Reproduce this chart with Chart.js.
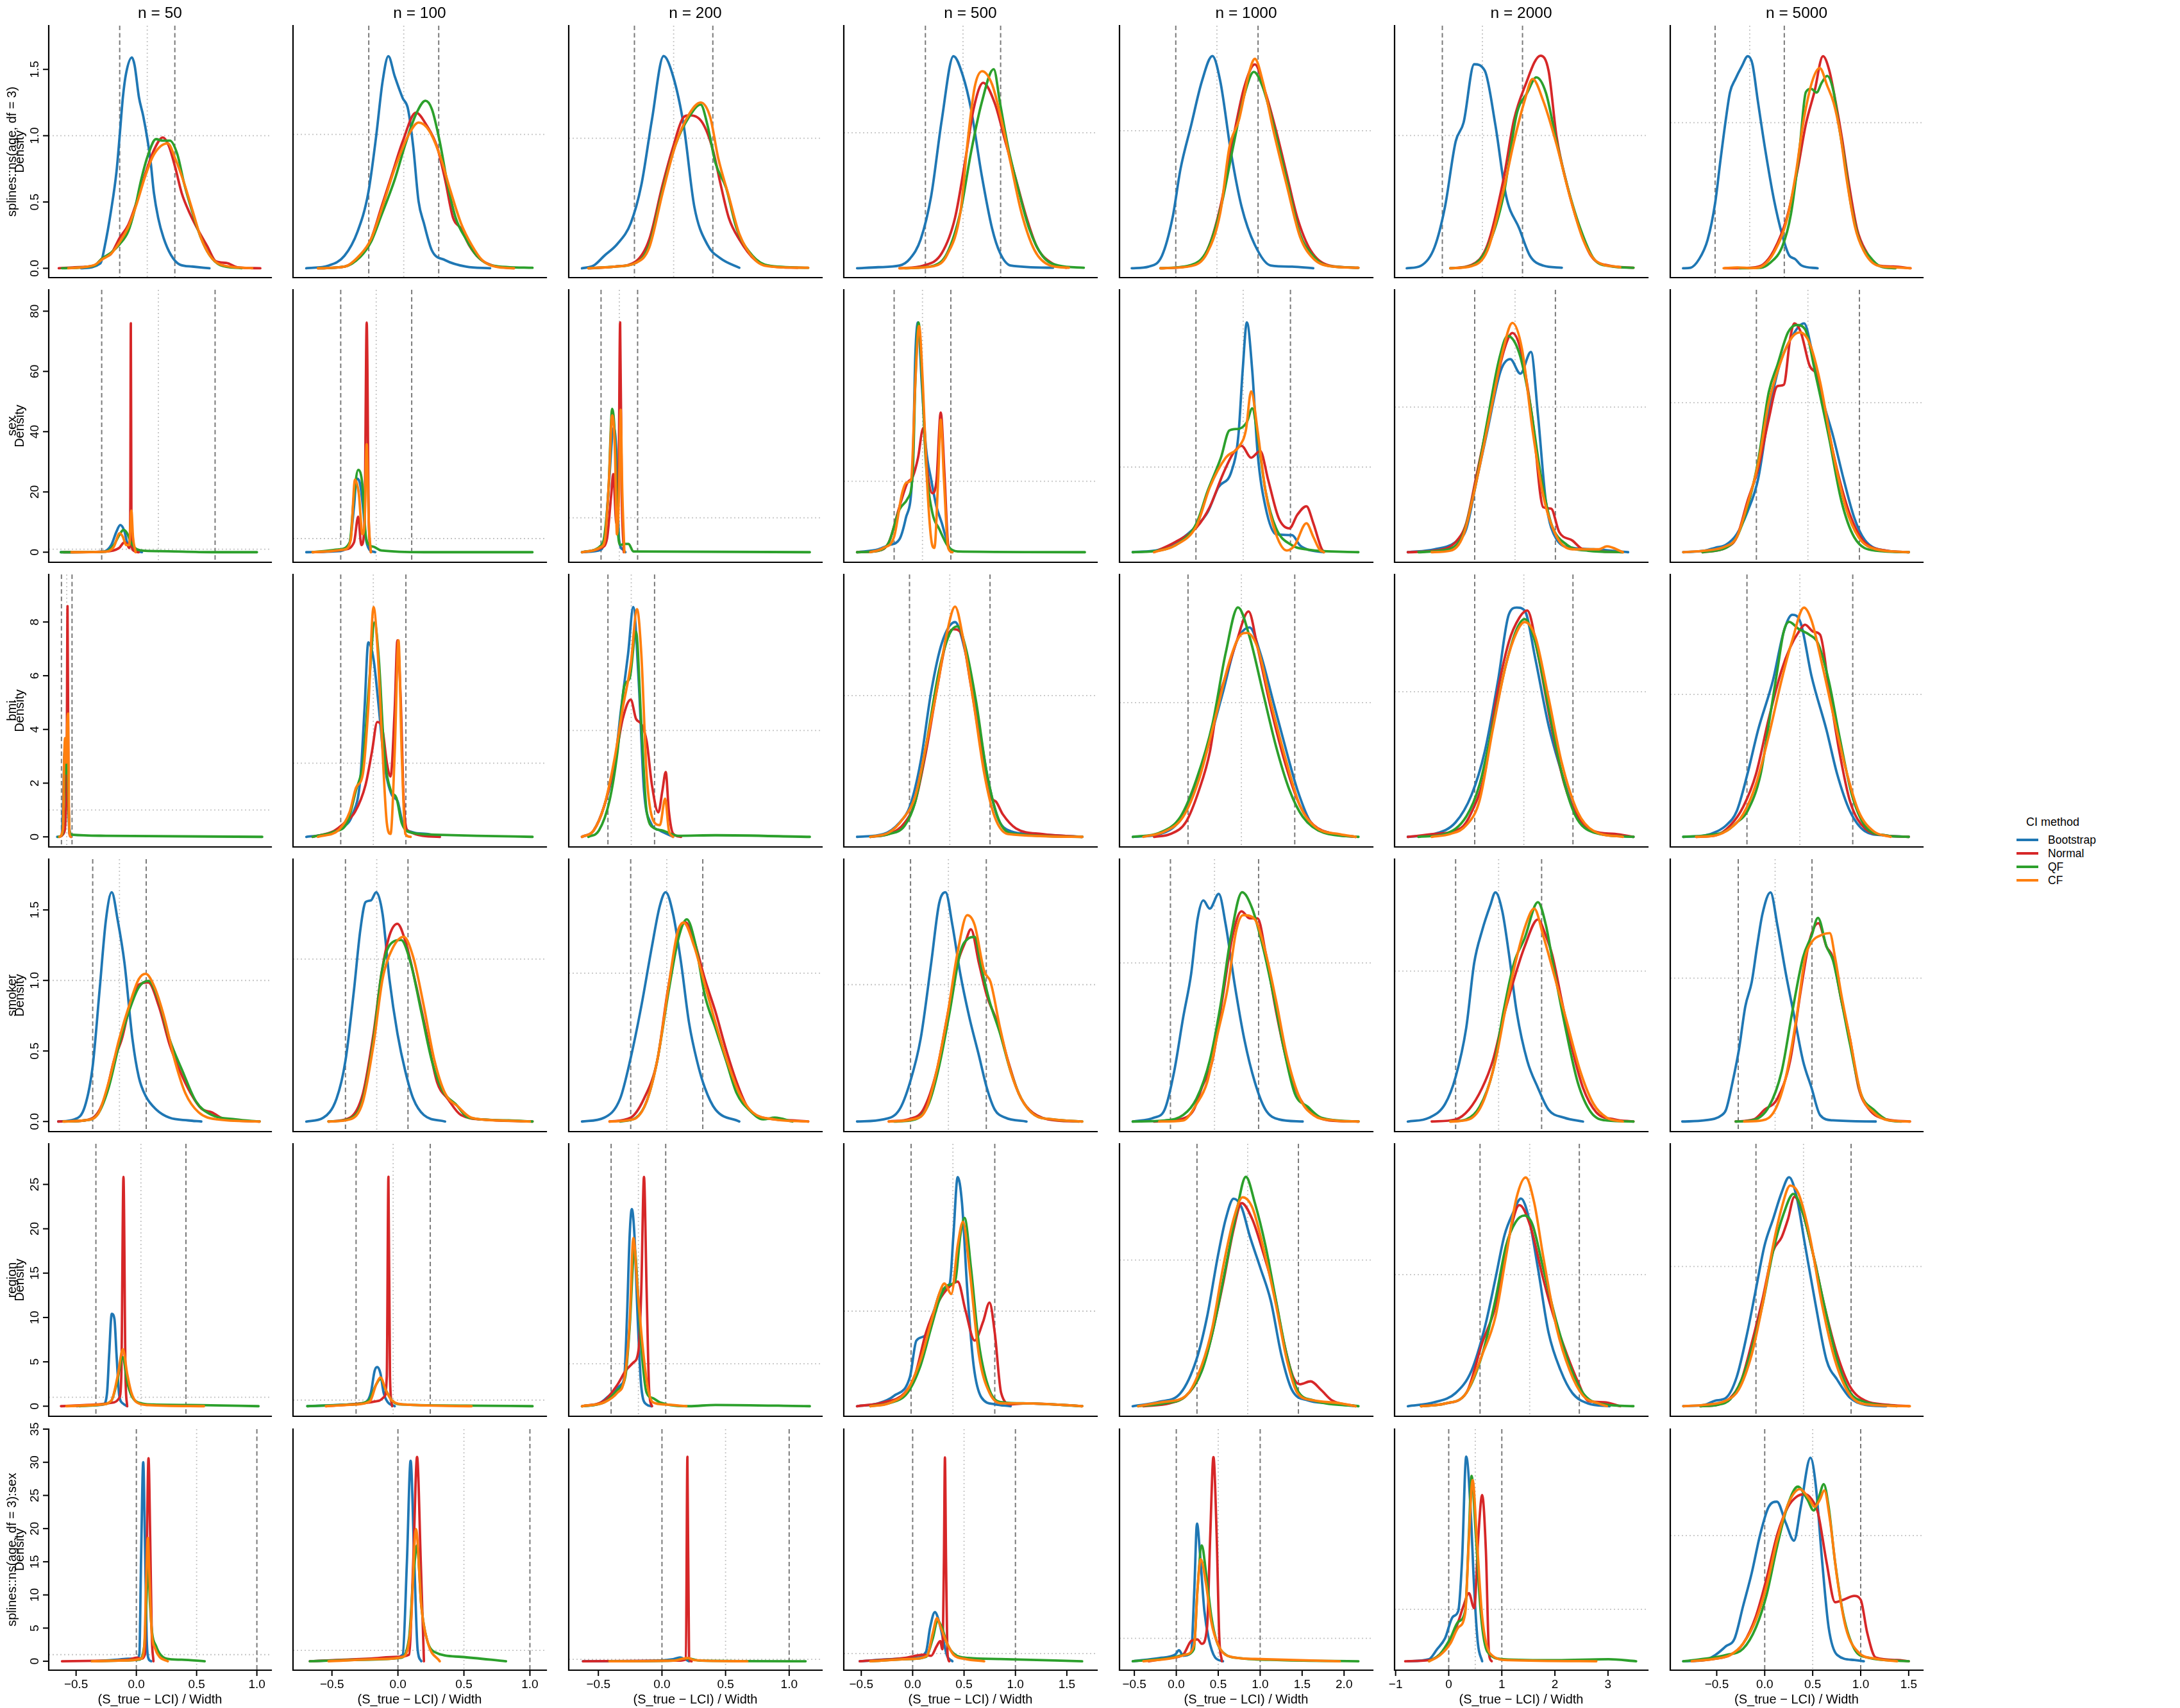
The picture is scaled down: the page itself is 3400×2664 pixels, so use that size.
<!DOCTYPE html>
<html>
<head>
<meta charset="utf-8">
<title>CI coverage densities</title>
<script src="https://cdn.jsdelivr.net/npm/chart.js@4.4.0/dist/chart.umd.min.js"></script>
<style>
html,body{margin:0;padding:0;background:#fff;}
#page{position:relative;width:3400px;height:2664px;overflow:hidden;background:#fff;font-family:"Liberation Sans",Arial,sans-serif;color:#000;}
#page canvas{position:absolute;}
.lg{position:absolute;white-space:nowrap;line-height:1;font-family:"Liberation Sans",Arial,sans-serif;}
.lgline{position:absolute;height:3.5px;width:34px;}
</style>
</head>
<body>
<div id="page"></div>
<script>
// ---------------- labels / ticks ----------------
const METHODS = ["Bootstrap", "Normal", "QF", "CF"];
const N_LABELS = ["n = 50", "n = 100", "n = 200", "n = 500", "n = 1000", "n = 2000", "n = 5000"];
const TERMS = ["splines::ns(age, df = 3)", "sex", "bmi", "smoker", "region", "splines::ns(age, df = 3):sex"];
const Y_TITLE = "Density";
const X_TITLE = "(S_true \u2212 LCI) / Width";
const Y_TICKS = [[0,0.5,1,1.5],[0,20,40,60,80],[0,2,4,6,8],[0,0.5,1,1.5],[0,5,10,15,20,25],[0,5,10,15,20,25,30,35]];
const X_TICKS = [[-0.5,0,0.5,1],[-0.5,0,0.5,1],[-0.5,0,0.5,1],[-0.5,0,0.5,1,1.5],[-0.5,0,0.5,1,1.5,2],[-1,0,1,2,3],[-0.5,0,0.5,1,1.5]];
const CI_BOUNDS = [0, 1];
const CI_MID = 0.5;
const UNIFORM_DENSITY = 1;

// ---------------- axis ranges per panel (n = 50 ... 5000) ----------------
const AGE_XLIM = [[-1.287,2.748],[-1.083,2.538],[-0.838,2.392],[-1.085,2.282],[-0.684,2.394],[-0.596,2.563],[-0.648,3.003]];
const AGE_YMAX = [1.83,1.813,1.866,1.791,1.763,1.828,1.666];
const SEX_XLIM = [[-0.467,1.495],[-0.672,2.896],[-0.884,6.043],[-0.888,3.579],[-0.809,1.871],[-0.993,2.145],[-0.836,1.616]];
const SEX_YMAX = [87.1,19.24,7.63,3.70,3.083,1.808,1.755];
const BMI_XLIM = [[-1.2,19.8],[-0.732,3.154],[-0.841,4.591],[-0.816,2.329],[-0.642,1.731],[-0.816,1.762],[-0.725,1.663]];
const BMI_YMAX = [9.77,3.563,2.467,1.857,1.955,1.808,1.843];
const SMOKER_XLIM = [[-0.822,3.337],[-0.839,3.212],[-0.86,2.654],[-0.881,2.462],[-0.578,2.295],[-0.71,2.235],[-0.922,2.504]];
const SMOKER_YMAX = [1.86,1.615,1.769,1.917,1.654,1.744,1.83];
const REGION_XLIM = [[-0.524,1.947],[-0.85,2.564],[-0.777,3.864],[-0.804,2.222],[-0.764,1.733],[-0.861,1.69],[-0.901,1.755]];
const REGION_YMAX = [29.58,43.1,6.19,2.76,1.796,1.996,1.879];
const AGESEX_XLIM = [[-0.727,1.119],[-0.795,1.124],[-0.733,1.258],[-0.67,1.794],[-0.677,2.342],[-1.02,3.75],[-0.984,1.648]];
const AGESEX_YMAX = [35,21.25,121.4,30.4,10.12,4.47,1.848];

// ---------------- density curves: [x0,y0,x1,y1,...] per n ----------------
const AGE_BOOTSTRAP = [
 [-0.70,0,-0.349,0.037,-0.271,0.166,-0.155,0.439,-0.058,0.729,0,1.00,0.058,1.29,0.116,1.47,0.221,1.59,0.271,1.53,0.349,1.29,0.426,1.15,0.504,0.97,0.562,0.80,0.620,0.57,0.698,0.38,0.795,0.23,0.930,0.10,1.085,0.029,1.318,0.013,1.628,0],
 [-0.894,0,-0.576,0.02,-0.348,0.093,-0.159,0.276,-0.008,0.561,0.106,0.988,0.197,1.394,0.28,1.585,0.371,1.435,0.485,1.272,0.561,1.19,0.636,0.907,0.712,0.5,0.788,0.337,0.902,0.134,1.091,0.061,1.394,0.012,1.735,0],
 [-0.669,0,-0.52,0.021,-0.385,0.096,-0.216,0.188,-0.047,0.347,0.088,0.64,0.223,1.142,0.372,1.632,0.493,1.477,0.628,1.10,0.764,0.473,0.932,0.18,1.101,0.075,1.338,0.004],
 [-0.908,0,-0.627,0.008,-0.345,0.02,-0.204,0.072,-0.063,0.213,0.077,0.534,0.218,1.096,0.373,1.566,0.5,1.418,0.606,1.177,0.746,0.695,0.887,0.293,0.993,0.112,1.134,0.02,1.697,0.004],
 [-0.535,0,-0.329,0.012,-0.168,0.091,-0.039,0.368,0.058,0.723,0.187,1.04,0.316,1.356,0.445,1.542,0.542,1.356,0.671,0.842,0.8,0.447,0.961,0.17,1.155,0.02,1.413,0.012,1.671,0],
 [-0.444,0,-0.265,0.02,-0.099,0.156,0.033,0.463,0.166,0.955,0.265,1.098,0.397,1.537,0.53,1.488,0.662,1.078,0.795,0.545,0.96,0.299,1.093,0.094,1.258,0.02,1.49,0.004],
 [-0.463,0,-0.355,0.004,-0.231,0.063,-0.108,0.196,0,0.446,0.077,0.74,0.154,1.019,0.216,1.21,0.293,1.299,0.386,1.387,0.472,1.456,0.54,1.401,0.617,1.151,0.725,0.813,0.849,0.475,0.972,0.225,1.065,0.093,1.157,0.063,1.25,0.019,1.481,0]
];
const AGE_NORMAL = [
 [-1.105,0,-0.814,0.008,-0.465,0.02,-0.31,0.077,-0.155,0.11,0,0.23,0.155,0.327,0.31,0.504,0.465,0.713,0.62,0.89,0.783,0.987,0.891,0.923,1.008,0.76,1.124,0.568,1.279,0.407,1.434,0.279,1.589,0.166,1.744,0.053,1.938,0.04,2.132,0.008,2.55,0],
 [-0.727,0,-0.348,0.012,-0.121,0.093,0.03,0.215,0.182,0.459,0.333,0.703,0.485,0.947,0.674,1.163,0.826,1.069,0.977,0.907,1.091,0.663,1.205,0.378,1.318,0.297,1.432,0.175,1.583,0.073,1.773,0.02,2.076,0],
 [-0.588,0,-0.25,0.013,0.02,0.054,0.189,0.222,0.358,0.64,0.493,0.933,0.628,1.163,0.696,1.176,0.865,1.121,1.0,0.912,1.101,0.64,1.203,0.389,1.338,0.222,1.541,0.063,1.777,0.013,2.081,0.004],
 [-0.345,0,-0.028,0.02,0.218,0.112,0.394,0.373,0.535,0.815,0.641,1.177,0.768,1.369,0.923,1.217,1.063,0.936,1.204,0.655,1.345,0.373,1.486,0.153,1.697,0.032,1.873,0.004],
 [-0.187,0,0.187,0.02,0.381,0.13,0.542,0.447,0.703,0.96,0.832,1.316,0.961,1.482,1.09,1.277,1.219,1.0,1.348,0.684,1.477,0.368,1.639,0.13,1.865,0.02,2.219,0.004],
 [0.099,0,0.364,0.025,0.563,0.176,0.762,0.668,0.894,1.119,1.026,1.365,1.225,1.602,1.325,1.488,1.424,0.996,1.556,0.627,1.689,0.34,1.854,0.094,2.086,0.02,2.384,0.004],
 [0.139,0,0.509,0.004,0.694,0.026,0.849,0.122,1.034,0.343,1.188,0.666,1.312,0.99,1.435,1.21,1.559,1.456,1.651,1.357,1.744,1.137,1.836,0.887,1.929,0.593,2.052,0.269,2.176,0.122,2.361,0.019,2.577,0.012,2.824,0]
];
const AGE_QF = [
 [-1.047,0,-0.465,0.02,-0.31,0.077,-0.155,0.118,0,0.182,0.155,0.279,0.271,0.44,0.388,0.665,0.504,0.842,0.659,0.974,0.775,0.963,0.911,0.963,1.047,0.858,1.163,0.649,1.318,0.424,1.473,0.23,1.628,0.10,1.822,0.024,2.209,0],
 [-0.727,0,-0.348,0.012,-0.121,0.085,0.03,0.195,0.182,0.398,0.371,0.663,0.523,0.927,0.674,1.15,0.811,1.252,0.902,1.19,1.015,0.947,1.129,0.622,1.242,0.378,1.394,0.215,1.545,0.093,1.773,0.02,2.341,0.004],
 [-0.588,0,-0.25,0.013,0.02,0.042,0.189,0.18,0.358,0.598,0.527,0.954,0.696,1.163,0.845,1.259,0.932,1.10,1.034,0.808,1.169,0.619,1.304,0.305,1.507,0.096,1.709,0.021,2.216,0.004],
 [-0.275,0,0.113,0.02,0.289,0.112,0.465,0.414,0.606,0.855,0.746,1.217,0.908,1.47,0.993,1.217,1.099,0.896,1.239,0.574,1.38,0.293,1.556,0.092,1.768,0.02,2.106,0.004],
 [-0.187,0,0.187,0.024,0.381,0.13,0.542,0.427,0.703,0.901,0.832,1.257,0.948,1.427,1.058,1.316,1.187,1.04,1.348,0.644,1.51,0.249,1.639,0.111,1.832,0.02,2.219,0.004],
 [0.099,0,0.364,0.02,0.563,0.156,0.762,0.545,0.927,1.16,1.06,1.324,1.172,1.439,1.291,1.324,1.424,0.955,1.556,0.627,1.722,0.299,1.887,0.074,2.086,0.016,2.384,0.004],
 [0.355,0,0.664,0.004,0.787,0.034,0.972,0.151,1.096,0.372,1.219,0.813,1.312,1.21,1.389,1.232,1.466,1.207,1.543,1.276,1.62,1.321,1.713,1.21,1.775,1.019,1.867,0.754,1.96,0.446,2.083,0.196,2.238,0.078,2.392,0.012,2.608,0]
];
const AGE_CF = [
 [-0.93,0,-0.465,0.024,-0.31,0.069,-0.155,0.11,0,0.198,0.155,0.311,0.31,0.488,0.465,0.697,0.62,0.858,0.872,0.942,1.008,0.826,1.163,0.649,1.318,0.44,1.473,0.23,1.628,0.10,1.822,0.029,2.403,0],
 [-0.727,0,-0.348,0.012,-0.121,0.102,0.03,0.215,0.182,0.439,0.371,0.744,0.561,0.988,0.712,1.089,0.864,1.028,1.015,0.846,1.167,0.581,1.318,0.337,1.47,0.175,1.621,0.061,1.811,0.012,2.076,0],
 [-0.588,0,-0.25,0.013,0.02,0.042,0.189,0.159,0.358,0.577,0.527,0.954,0.696,1.184,0.845,1.275,0.966,1.163,1.068,0.849,1.203,0.556,1.338,0.264,1.541,0.063,1.743,0.013,2.216,0.004],
 [-0.345,0,0.113,0.016,0.289,0.10,0.465,0.414,0.57,0.976,0.655,1.337,0.754,1.454,0.887,1.357,0.993,1.137,1.134,0.775,1.275,0.414,1.451,0.133,1.662,0.02,1.908,0.004],
 [-0.187,0,0.187,0.016,0.381,0.111,0.542,0.407,0.652,0.881,0.768,1.079,0.897,1.435,0.961,1.522,1.058,1.356,1.187,1.0,1.348,0.605,1.51,0.229,1.671,0.071,1.865,0.016,2.219,0.004],
 [0.099,0,0.364,0.016,0.563,0.135,0.762,0.586,0.894,0.955,1.026,1.262,1.126,1.426,1.258,1.262,1.424,0.934,1.589,0.545,1.755,0.217,1.921,0.053,2.219,0.008],
 [0.123,0,0.324,0.006,0.54,0.001,0.694,0.019,0.849,0.107,1.034,0.328,1.157,0.622,1.281,1.019,1.404,1.284,1.512,1.375,1.62,1.254,1.713,1.137,1.806,0.931,1.898,0.622,2.022,0.284,2.145,0.122,2.33,0.022,2.577,0.007,2.824,0]
];

const SEX_BOOTSTRAP = [
 [-0.36,0,0.014,0.2,0.084,2.35,0.131,6.9,0.164,9.0,0.201,6.9,0.224,3.3,0.252,2.35,0.28,0.9,0.355,0],
 [-0.485,0,-0.022,0.08,0.127,0.72,0.187,3.32,0.224,5.4,0.276,4.92,0.321,2.92,0.351,1.12,0.403,0.2,0.485,0],
 [-0.522,0,-0.058,0.05,0.087,0.29,0.203,1.79,0.348,3.62,0.42,2.9,0.493,0.37,0.594,0.08,0.667,0],
 [-0.654,0,-0.28,0.04,-0.093,0.1,0.093,0.18,0.206,0.48,0.327,1.18,0.374,2.78,0.421,3.24,0.486,2.4,0.561,1.48,0.654,1.02,0.748,0.64,0.841,0.41,0.953,0.1,1.028,0],
 [-0.669,0,-0.388,0.03,-0.163,0.15,0.006,0.31,0.124,0.47,0.236,0.76,0.376,0.95,0.449,1.37,0.494,2.13,0.539,2.70,0.596,2.13,0.652,1.17,0.736,0.53,0.848,0.21,1.017,0.2,1.101,0.08,1.185,0.03,1.354,0],
 [-0.829,0,-0.5,0.02,-0.237,0.07,-0.105,0.16,0.026,0.5,0.158,0.84,0.322,1.25,0.441,1.33,0.566,1.23,0.697,1.38,0.783,0.95,0.882,0.35,1.013,0.09,1.211,0.03,1.474,0.02,1.901,0],
 [-0.71,0,-0.502,0.01,-0.398,0.03,-0.295,0.05,-0.191,0.12,-0.087,0.27,0.017,0.49,0.12,0.93,0.224,1.25,0.328,1.42,0.463,1.53,0.535,1.36,0.639,1.03,0.743,0.78,0.846,0.49,0.95,0.23,1.054,0.08,1.261,0.01,1.479,0]
];
const SEX_NORMAL = [
 [-0.336,0,0.037,0.2,0.154,1.4,0.201,3.3,0.224,2.7,0.243,1.4,0.252,13.2,0.257,76,0.262,13.2,0.271,0.9,0.327,0],
 [-0.396,0,0.052,0.2,0.187,0.72,0.246,2.6,0.291,0.52,0.336,2.12,0.366,16.84,0.396,2.12,0.425,0],
 [-0.522,0,0.014,0.13,0.159,0.37,0.275,1.63,0.333,2.27,0.42,0.84,0.478,1.79,0.522,6.68,0.565,1.79,0.623,0],
 [-0.654,0,-0.28,0.02,-0.093,0.14,0.093,0.64,0.234,0.98,0.327,1.06,0.421,1.33,0.514,1.75,0.579,1.18,0.673,0.83,0.748,1.02,0.822,1.97,0.888,1.1,0.953,0.1,1.009,0],
 [-0.444,0,-0.219,0.12,0.006,0.29,0.146,0.53,0.287,0.92,0.399,1.17,0.483,1.25,0.584,1.11,0.68,1.19,0.764,0.85,0.876,0.4,0.989,0.28,1.073,0.44,1.169,0.54,1.242,0.34,1.326,0.05,1.354,0],
 [-0.829,0,-0.5,0.01,-0.237,0.07,-0.105,0.2,0.026,0.54,0.224,1.06,0.368,1.4,0.467,1.51,0.566,1.4,0.717,0.91,0.849,0.31,0.947,0.3,1.046,0.14,1.211,0.08,1.342,0.02,1.836,0],
 [-0.523,0,-0.295,0.03,-0.191,0.1,-0.087,0.34,0.017,0.56,0.12,0.89,0.203,1.11,0.266,1.12,0.328,1.43,0.369,1.53,0.432,1.47,0.515,1.25,0.598,1.17,0.701,0.81,0.805,0.49,0.909,0.25,1.033,0.08,1.261,0.01,1.479,0]
];
const SEX_QF = [
 [-0.36,0,0.037,0.2,0.107,2.35,0.154,5.6,0.192,7.4,0.224,6.3,0.257,3.3,0.294,1.4,0.364,0.5,0.505,0.35,0.972,0,1.369,0],
 [-0.396,0,-0.022,0.2,0.127,0.72,0.187,4.12,0.246,6.04,0.306,4.92,0.351,1.32,0.403,0.52,0.463,0.4,0.575,0.12,1.172,0,2.701,0],
 [-0.522,0,0.014,0.21,0.087,0.44,0.203,1.79,0.304,4.17,0.377,3.38,0.449,0.84,0.522,0.21,0.638,0.24,0.754,0.24,0.884,0.02,5.71,0],
 [-0.654,0,-0.28,0.02,-0.093,0.14,0.093,0.6,0.234,0.75,0.327,1.1,0.374,2.4,0.43,3.24,0.495,2.4,0.561,1.25,0.673,0.56,0.794,0.33,0.953,0.08,1.121,0.01,3.364,0],
 [-0.669,0,-0.388,0.02,-0.163,0.12,0.006,0.34,0.124,0.72,0.264,1.11,0.354,1.43,0.455,1.45,0.539,1.53,0.596,1.69,0.652,1.37,0.736,0.72,0.848,0.28,1.017,0.08,1.185,0.03,1.719,0],
 [-0.697,0,-0.434,0.01,-0.171,0.09,-0.007,0.42,0.158,0.91,0.303,1.33,0.408,1.49,0.553,1.37,0.684,1.03,0.816,0.54,0.947,0.2,1.145,0.05,1.408,0.01,1.836,0],
 [-0.523,0,-0.295,0.03,-0.191,0.1,-0.087,0.3,0.017,0.61,0.12,1.07,0.203,1.25,0.307,1.47,0.39,1.52,0.473,1.49,0.577,1.18,0.701,0.78,0.826,0.34,0.95,0.1,1.158,0.01,1.479,0]
];
const SEX_CF = [
 [-0.266,0,0.037,0.2,0.107,1.8,0.159,6.3,0.187,5.1,0.215,2.35,0.243,2.35,0.262,13.8,0.276,5.1,0.299,0],
 [-0.396,0,0.052,0.2,0.142,0.92,0.201,5.32,0.254,4.32,0.306,1.32,0.336,2.12,0.366,7.92,0.396,2.12,0.425,0],
 [-0.522,0,0.014,0.16,0.116,0.44,0.217,2.11,0.304,3.98,0.377,3.06,0.435,0.52,0.493,1.79,0.536,4.14,0.58,1.79,0.638,0],
 [-0.421,0,-0.187,0.06,0,0.22,0.14,0.83,0.215,0.98,0.299,1.02,0.374,2.4,0.439,3.19,0.505,2.4,0.579,1.02,0.654,0.18,0.71,0.06,0.776,1.02,0.822,1.87,0.879,1.02,0.953,0.06,1.028,0],
 [-0.444,0,-0.219,0.08,0.006,0.31,0.146,0.76,0.315,1.11,0.455,1.24,0.528,1.43,0.584,1.89,0.652,1.43,0.736,0.72,0.848,0.21,0.961,0.02,1.045,0.08,1.169,0.34,1.242,0.18,1.309,0.03,1.354,0],
 [-0.533,0,-0.303,0.01,-0.138,0.12,0.026,0.5,0.191,0.95,0.355,1.4,0.467,1.58,0.586,1.4,0.717,0.84,0.849,0.39,1.013,0.11,1.211,0.02,1.539,0.02,1.638,0.04,1.836,0],
 [-0.71,0,-0.502,0.01,-0.295,0.04,-0.191,0.1,-0.087,0.32,0.017,0.59,0.12,1.0,0.224,1.25,0.328,1.42,0.421,1.47,0.515,1.4,0.618,1.14,0.743,0.67,0.867,0.3,0.992,0.1,1.158,0.02,1.479,0]
];

const BMI_BOOTSTRAP = [
 [-0.4,0,0,0.04,0.15,1.14,0.3,3.17,0.45,2.76,0.6,1.95,0.75,0.32,0.95,0],
 [-0.528,0,-0.187,0.04,0.016,0.12,0.179,0.3,0.301,0.79,0.366,1.75,0.423,2.64,0.504,2.41,0.585,1.75,0.667,1.01,0.789,0.56,0.87,0.49,0.951,0.19,1.114,0.06,1.317,0.04,1.52,0],
 [-0.557,0,-0.307,0.06,-0.08,0.29,0.148,0.7,0.284,1.21,0.432,1.72,0.545,2.16,0.659,1.47,0.773,0.44,0.92,0.13,1.114,0.06,1.398,0],
 [-0.651,0,-0.322,0.02,-0.125,0.1,0.007,0.22,0.138,0.53,0.27,1.03,0.401,1.37,0.566,1.52,0.697,1.3,0.829,0.91,0.961,0.45,1.092,0.14,1.257,0.04,1.52,0.02,2.145,0],
 [-0.517,0,-0.269,0.02,-0.07,0.13,0.08,0.39,0.204,0.72,0.328,1.08,0.453,1.45,0.577,1.56,0.677,1.37,0.801,1.0,0.925,0.63,1.025,0.35,1.149,0.11,1.323,0.03,1.572,0],
 [-0.681,0,-0.411,0.02,-0.195,0.1,-0.032,0.29,0.103,0.59,0.238,1.08,0.346,1.53,0.427,1.58,0.508,1.56,0.616,1.23,0.751,0.77,0.886,0.44,1.022,0.17,1.184,0.04,1.616,0],
 [-0.602,0,-0.4,0.01,-0.279,0.04,-0.198,0.08,-0.097,0.18,0.004,0.44,0.105,0.75,0.246,1.1,0.347,1.44,0.428,1.56,0.509,1.5,0.61,1.13,0.752,0.75,0.853,0.44,0.974,0.18,1.115,0.04,1.297,0.01,1.529,0]
];
const BMI_NORMAL = [
 [-0.2,0,0.2,0.12,0.4,0.73,0.5,2.76,0.575,8.59,0.65,2.76,0.75,0.12,0.9,0],
 [-0.431,0,-0.106,0.08,0.057,0.19,0.22,0.34,0.382,0.71,0.48,1.16,0.561,1.56,0.642,1.45,0.707,1.01,0.764,0.82,0.829,1.75,0.87,2.67,0.919,1.9,0.967,0.49,1.033,0.08,1.52,0],
 [-0.557,0,-0.307,0.06,-0.08,0.29,0.148,0.7,0.318,1.11,0.489,1.29,0.602,1.11,0.716,1.06,0.83,0.9,0.943,0.49,1.08,0.23,1.17,0.44,1.239,0.61,1.307,0.24,1.398,0.03,1.568,0],
 [-0.487,0,-0.257,0.02,-0.059,0.1,0.072,0.25,0.204,0.6,0.336,1.03,0.467,1.41,0.546,1.47,0.632,1.45,0.763,1.07,0.895,0.6,0.993,0.29,1.072,0.25,1.158,0.16,1.322,0.06,1.651,0.02,2.145,0],
 [-0.318,0,-0.169,0.02,-0.02,0.11,0.104,0.35,0.204,0.63,0.279,1.0,0.353,1.2,0.453,1.45,0.567,1.68,0.652,1.41,0.776,0.96,0.925,0.51,1.05,0.23,1.174,0.09,1.373,0.02,1.572,0],
 [-0.681,0,-0.411,0.02,-0.141,0.06,-0.032,0.17,0.103,0.44,0.211,0.92,0.346,1.34,0.454,1.51,0.535,1.56,0.643,1.26,0.778,0.77,0.914,0.36,1.049,0.14,1.211,0.04,1.427,0.02,1.616,0],
 [-0.481,0,-0.299,0.01,-0.158,0.08,-0.036,0.21,0.085,0.44,0.206,0.83,0.327,1.17,0.408,1.33,0.489,1.44,0.549,1.49,0.63,1.44,0.691,1.42,0.772,1.06,0.873,0.6,0.974,0.25,1.115,0.06,1.317,0.01,1.529,0]
];
const BMI_QF = [
 [-0.3,0,0.1,0.12,0.25,1.54,0.35,3.37,0.45,2.36,0.55,3.17,0.65,1.54,0.75,0.22,1.0,0.08,4.2,0.04,18.95,0],
 [-0.431,0,-0.106,0.07,0.098,0.19,0.236,0.64,0.341,1.01,0.439,2.12,0.52,2.91,0.585,2.41,0.667,1.16,0.764,0.64,0.854,0.53,0.935,0.19,1.073,0.06,1.439,0.03,2.089,0.015,2.943,0],
 [-0.42,0,-0.193,0.06,0.034,0.34,0.205,0.8,0.352,1.42,0.466,1.49,0.602,1.93,0.716,1.06,0.83,0.24,1.0,0.08,1.17,0.06,1.511,0.01,2.307,0.015,4.33,0],
 [-0.487,0,-0.257,0.02,-0.059,0.08,0.072,0.25,0.204,0.64,0.368,1.18,0.5,1.44,0.599,1.49,0.697,1.34,0.829,0.95,0.961,0.45,1.125,0.1,1.322,0.02,2.145,0],
 [-0.517,0,-0.269,0.03,-0.07,0.15,0.08,0.43,0.229,0.84,0.353,1.37,0.468,1.71,0.577,1.49,0.701,1.08,0.826,0.67,0.95,0.35,1.075,0.15,1.274,0.03,1.597,0],
 [-0.573,0,-0.303,0.02,-0.086,0.14,0.049,0.36,0.184,0.77,0.319,1.19,0.427,1.43,0.508,1.5,0.616,1.34,0.751,0.89,0.886,0.44,1.022,0.15,1.211,0.03,1.616,0],
 [-0.602,0,-0.4,0.01,-0.198,0.04,-0.097,0.1,0.004,0.18,0.129,0.44,0.206,0.79,0.287,1.17,0.347,1.44,0.398,1.51,0.489,1.46,0.59,1.42,0.671,1.36,0.772,1.1,0.873,0.71,0.994,0.29,1.135,0.06,1.317,0.01,1.529,0]
];
const BMI_CF = [
 [-0.2,0,0.15,0.32,0.25,2.76,0.35,3.68,0.45,2.76,0.55,4.18,0.625,4.59,0.7,1.14,0.8,0.04,0.9,0],
 [-0.35,0,-0.024,0.1,0.138,0.34,0.236,0.67,0.341,0.86,0.423,1.75,0.504,3.12,0.569,2.49,0.642,1.16,0.707,0.19,0.764,0.04,0.829,1.16,0.886,2.67,0.935,1.16,0.992,0.04,1.073,0],
 [-0.557,0,-0.307,0.06,-0.08,0.29,0.148,0.75,0.318,1.21,0.489,1.62,0.625,2.14,0.716,1.72,0.83,0.59,0.966,0.16,1.114,0.11,1.227,0.36,1.307,0.06,1.398,0],
 [-0.487,0,-0.257,0.03,-0.092,0.12,0.072,0.29,0.204,0.64,0.336,1.03,0.467,1.45,0.566,1.63,0.664,1.41,0.796,0.95,0.928,0.45,1.059,0.14,1.224,0.02,2.145,0],
 [-0.418,0,-0.219,0.04,-0.045,0.15,0.104,0.43,0.254,0.88,0.378,1.28,0.478,1.49,0.552,1.52,0.652,1.41,0.776,1.0,0.925,0.55,1.05,0.23,1.199,0.07,1.423,0.02,1.572,0],
 [-0.438,0,-0.249,0.02,-0.086,0.08,0.049,0.25,0.184,0.74,0.319,1.19,0.427,1.41,0.508,1.48,0.616,1.38,0.751,0.96,0.886,0.51,1.049,0.17,1.211,0.04,1.508,0],
 [-0.481,0,-0.299,0.01,-0.158,0.06,-0.036,0.16,0.085,0.37,0.206,0.71,0.327,1.1,0.428,1.38,0.539,1.61,0.61,1.52,0.711,1.21,0.812,0.87,0.933,0.48,1.055,0.18,1.196,0.04,1.358,0]
];

const SMOKER_BOOTSTRAP = [
 [-0.644,0,-0.347,0.015,-0.149,0.104,0,0.393,0.129,0.932,0.248,1.432,0.356,1.625,0.465,1.432,0.594,1.124,0.743,0.585,0.861,0.316,0.99,0.181,1.188,0.085,1.436,0.027,1.782,0.008,2.03,0],
 [-0.627,0,-0.356,0.023,-0.144,0.14,0,0.375,0.136,0.809,0.237,1.177,0.322,1.351,0.407,1.361,0.492,1.411,0.593,1.278,0.703,0.876,0.831,0.542,0.958,0.308,1.085,0.14,1.254,0.04,1.593,0],
 [-0.676,0,-0.368,0.026,-0.147,0.154,0,0.429,0.147,0.777,0.294,1.179,0.404,1.454,0.485,1.546,0.588,1.399,0.699,1.07,0.809,0.667,0.919,0.41,1.029,0.227,1.176,0.081,1.507,0],
 [-0.706,0,-0.357,0.016,-0.147,0.087,-0.007,0.286,0.133,0.603,0.273,1.159,0.378,1.595,0.462,1.675,0.552,1.437,0.657,1.079,0.776,0.762,0.902,0.484,1.007,0.246,1.112,0.087,1.252,0.028,1.531,0],
 [-0.428,0,-0.187,0.024,-0.066,0.075,0.042,0.315,0.145,0.658,0.235,0.932,0.307,1.274,0.373,1.394,0.446,1.342,0.548,1.435,0.627,1.24,0.729,0.863,0.837,0.521,0.958,0.247,1.078,0.075,1.229,0.014,1.5,0],
 [-0.556,0,-0.309,0.025,-0.123,0.116,0,0.296,0.123,0.621,0.216,1.054,0.309,1.271,0.401,1.433,0.463,1.523,0.543,1.397,0.617,1.126,0.71,0.729,0.833,0.404,0.957,0.224,1.08,0.079,1.265,0.025,1.481,0],
 [-0.759,0,-0.455,0.008,-0.223,0.045,-0.165,0.083,-0.078,0.273,0.009,0.5,0.096,0.803,0.183,0.973,0.255,1.22,0.328,1.447,0.438,1.598,0.53,1.371,0.646,1.03,0.762,0.727,0.878,0.424,0.994,0.235,1.11,0.045,1.284,0.008,1.864,0]
];
const SMOKER_NORMAL = [
 [-0.644,0,-0.149,0.008,0.099,0.065,0.248,0.2,0.396,0.431,0.545,0.585,0.693,0.816,0.861,0.97,1.04,0.986,1.238,0.816,1.436,0.547,1.634,0.354,1.832,0.2,2.03,0.092,2.228,0.065,2.475,0.015,3.119,0],
 [-0.271,0,0.068,0.023,0.28,0.174,0.449,0.542,0.576,0.91,0.703,1.144,0.831,1.217,0.958,1.11,1.127,0.843,1.297,0.542,1.466,0.241,1.636,0.14,1.847,0.04,2.271,0.01,2.992,0],
 [-0.294,0,0,0.026,0.184,0.154,0.368,0.41,0.515,0.886,0.662,1.253,0.757,1.344,0.882,1.216,1.029,0.96,1.176,0.74,1.324,0.484,1.471,0.264,1.618,0.099,1.838,0.026,2.279,0.007,2.463,0],
 [-0.287,0,-0.007,0.02,0.168,0.087,0.343,0.365,0.483,0.762,0.622,1.159,0.727,1.317,0.797,1.405,0.902,1.159,1.007,0.921,1.147,0.722,1.287,0.444,1.427,0.206,1.566,0.087,1.811,0.016,2.228,0],
 [-0.187,0,0.114,0.014,0.265,0.075,0.355,0.212,0.476,0.384,0.596,0.795,0.705,1.171,0.807,1.325,0.898,1.281,0.988,1.281,1.078,1.068,1.199,0.692,1.319,0.384,1.44,0.178,1.59,0.058,1.801,0.007,2.133,0],
 [-0.278,0,0,0.014,0.154,0.079,0.309,0.224,0.432,0.404,0.556,0.693,0.679,0.946,0.802,1.162,0.957,1.343,1.049,1.235,1.123,1.108,1.235,0.801,1.358,0.477,1.481,0.224,1.636,0.061,1.852,0.014,2.068,0],
 [-0.035,0,0.212,0.015,0.357,0.083,0.53,0.159,0.704,0.424,0.849,0.917,0.965,1.258,1.087,1.383,1.197,1.22,1.284,1.144,1.4,0.841,1.516,0.576,1.632,0.235,1.777,0.083,2.009,0.015,2.328,0]
];
const SMOKER_QF = [
 [-0.545,0,-0.149,0.008,0.099,0.054,0.297,0.239,0.495,0.547,0.693,0.797,0.861,0.951,1.04,0.997,1.238,0.855,1.436,0.585,1.683,0.354,1.931,0.142,2.228,0.046,2.673,0.015,3.119,0],
 [-0.271,0,0.068,0.017,0.28,0.14,0.449,0.508,0.576,0.91,0.703,1.084,0.89,1.117,1.042,0.977,1.212,0.676,1.381,0.375,1.551,0.191,1.763,0.107,1.975,0.023,2.61,0.007,2.992,0],
 [-0.147,0,0.074,0.026,0.221,0.136,0.368,0.41,0.529,0.886,0.662,1.234,0.779,1.363,0.897,1.198,1.029,0.85,1.176,0.63,1.324,0.41,1.471,0.19,1.654,0.073,1.838,0.015,1.999,0.026,2.243,0],
 [-0.217,0,0.063,0.016,0.238,0.127,0.378,0.405,0.517,0.802,0.657,1.238,0.762,1.337,0.846,1.349,0.937,1.119,1.042,0.881,1.182,0.643,1.322,0.365,1.462,0.167,1.636,0.048,1.881,0.016,2.266,0],
 [-0.428,0,-0.066,0.007,0.145,0.041,0.295,0.144,0.446,0.384,0.566,0.726,0.687,1.171,0.813,1.445,0.928,1.342,1.048,1.103,1.169,0.795,1.289,0.452,1.41,0.178,1.56,0.092,1.711,0.024,2.133,0],
 [-0.062,0,0.123,0.014,0.278,0.097,0.432,0.332,0.556,0.729,0.679,1.054,0.802,1.217,0.957,1.458,1.049,1.307,1.142,1.018,1.265,0.657,1.42,0.26,1.574,0.061,1.759,0.007,2.068,0],
 [-0.035,0,0.212,0.011,0.414,0.102,0.588,0.348,0.733,0.765,0.878,1.144,0.994,1.295,1.081,1.42,1.197,1.22,1.284,1.125,1.4,0.841,1.516,0.538,1.661,0.197,1.835,0.083,2.038,0.008,2.212,0]
];
const SMOKER_CF = [
 [-0.545,0,-0.149,0.008,0.099,0.054,0.297,0.277,0.495,0.585,0.693,0.836,0.861,1.009,0.99,1.047,1.158,0.951,1.337,0.739,1.535,0.431,1.733,0.2,1.98,0.065,2.327,0.015,3.119,0],
 [-0.271,0,0.068,0.013,0.28,0.124,0.449,0.475,0.593,0.876,0.746,1.06,0.932,1.137,1.085,1.01,1.254,0.709,1.424,0.375,1.593,0.174,1.805,0.09,2.017,0.023,2.441,0.007,2.949,0],
 [-0.294,0,0.037,0.015,0.221,0.136,0.382,0.447,0.529,0.923,0.647,1.271,0.735,1.341,0.882,1.179,1.029,0.923,1.176,0.667,1.324,0.429,1.507,0.19,1.691,0.062,1.985,0.015,2.463,0],
 [-0.287,0,0.028,0.016,0.203,0.087,0.343,0.365,0.483,0.762,0.622,1.238,0.748,1.508,0.846,1.437,0.972,1.099,1.056,1.02,1.182,0.683,1.322,0.365,1.462,0.167,1.636,0.048,1.881,0.016,2.266,0],
 [-0.127,0,0.145,0.007,0.295,0.11,0.416,0.247,0.536,0.555,0.645,0.829,0.747,1.205,0.825,1.301,0.958,1.274,1.078,1.068,1.199,0.76,1.319,0.418,1.47,0.144,1.62,0.041,1.861,0.007,2.133,0],
 [-0.062,0,0.154,0.014,0.309,0.116,0.463,0.404,0.586,0.765,0.71,1.09,0.815,1.307,0.914,1.415,1.019,1.235,1.142,0.982,1.296,0.657,1.451,0.332,1.605,0.116,1.759,0.025,1.944,0],
 [0.081,0,0.328,0.008,0.501,0.083,0.646,0.311,0.791,0.727,0.907,1.144,0.994,1.25,1.139,1.303,1.241,1.314,1.313,1.144,1.4,0.879,1.516,0.576,1.661,0.197,1.835,0.064,2.038,0.008,2.328,0]
];

const REGION_BOOTSTRAP = [
 [-0.212,0,-0.006,0.1,0.082,0.18,0.124,1.53,0.147,5.82,0.176,10.41,0.206,9.8,0.229,5.82,0.259,1.22,0.3,0.31,0.347,0],
 [-0.657,0,-0.086,0.27,0.129,0.63,0.2,2.23,0.25,5.8,0.286,6.43,0.329,5.36,0.371,2.23,0.429,0.63,0.521,0],
 [-0.534,0,-0.223,0.06,-0.029,0.26,0.068,0.38,0.184,0.51,0.243,0.71,0.291,2.12,0.34,4.04,0.379,4.65,0.427,4.04,0.485,2.12,0.553,0.45,0.65,0.04,0.748,0],
 [-0.646,0,-0.392,0.03,-0.203,0.11,-0.013,0.31,0.063,0.69,0.165,0.74,0.272,1.0,0.367,1.23,0.462,1.29,0.506,1.8,0.557,2.41,0.608,2.14,0.671,1.23,0.747,0.43,0.842,0.09,1.0,0.02,1.19,0],
 [-0.634,0,-0.372,0.03,-0.162,0.09,-0.005,0.32,0.099,0.61,0.204,1.02,0.283,1.28,0.361,1.42,0.44,1.36,0.518,1.17,0.623,0.95,0.728,0.72,0.832,0.35,0.937,0.11,1.094,0.04,1.304,0.02,1.565,0],
 [-0.727,0,-0.46,0.03,-0.246,0.1,-0.086,0.27,0.048,0.6,0.155,0.97,0.246,1.3,0.332,1.47,0.412,1.58,0.492,1.43,0.583,1.05,0.69,0.56,0.813,0.27,0.93,0.1,1.091,0.02,1.305,0],
 [-0.764,0,-0.539,0.01,-0.427,0.04,-0.315,0.06,-0.202,0.21,-0.09,0.53,0,0.84,0.09,1.15,0.18,1.34,0.27,1.53,0.348,1.64,0.427,1.5,0.517,1.15,0.629,0.72,0.742,0.33,0.854,0.19,0.989,0.06,1.146,0.01,1.371,0]
];
const REGION_NORMAL = [
 [-0.388,0,-0.006,0.18,0.2,0.43,0.259,0.92,0.282,3.37,0.306,25.84,0.329,3.37,0.347,0],
 [-0.407,0,0.057,0.45,0.307,0.89,0.379,1.52,0.414,4.91,0.436,37.7,0.457,4.91,0.486,0],
 [-0.534,0,-0.126,0.13,0.117,0.51,0.262,0.83,0.408,1.03,0.505,1.35,0.553,2.76,0.602,5.41,0.65,2.76,0.699,0.32,0.748,0],
 [-0.646,0,-0.329,0.04,-0.076,0.14,0.051,0.34,0.177,0.77,0.335,1.11,0.462,1.26,0.557,1.31,0.652,1.0,0.759,0.69,0.861,0.89,0.937,1.09,1.0,0.77,1.076,0.14,1.19,0.02,1.38,0.03,2.044,0],
 [-0.529,0,-0.267,0.02,-0.11,0.07,0.021,0.2,0.126,0.43,0.257,0.84,0.361,1.21,0.44,1.39,0.545,1.28,0.649,1.06,0.754,0.8,0.859,0.43,0.948,0.2,1.016,0.15,1.12,0.17,1.225,0.11,1.33,0.04,1.565,0],
 [-0.594,0,-0.353,0.02,-0.139,0.1,0.021,0.48,0.155,0.76,0.262,1.18,0.396,1.53,0.503,1.38,0.636,0.97,0.743,0.68,0.877,0.39,0.984,0.19,1.091,0.04,1.251,0.03,1.412,0],
 [-0.584,0,-0.404,0.01,-0.27,0.06,-0.157,0.18,-0.045,0.45,0.067,0.76,0.18,1.11,0.27,1.21,0.337,1.34,0.404,1.5,0.494,1.38,0.607,1.07,0.719,0.72,0.854,0.37,0.989,0.14,1.146,0.04,1.393,0.01,1.607,0]
];
const REGION_QF = [
 [-0.182,0,0.053,0.18,0.171,0.61,0.229,2.45,0.3,5.51,0.347,2.76,0.394,1.22,0.465,0.43,0.641,0.18,1.171,0.12,1.806,0],
 [-0.657,0,-0.086,0.27,0.164,0.89,0.271,3.57,0.329,4.46,0.4,2.68,0.486,0.89,0.629,0.27,1.486,0.09,2.379,0],
 [-0.534,0,-0.126,0.09,0.117,0.38,0.262,0.71,0.34,1.86,0.427,3.72,0.505,2.37,0.573,1.09,0.65,0.32,0.767,0.19,0.893,0.09,1.427,0,1.913,0.03,3.641,0],
 [-0.487,0,-0.266,0.03,-0.044,0.14,0.114,0.43,0.241,0.83,0.335,1.11,0.43,1.27,0.525,1.31,0.589,1.8,0.639,1.98,0.715,1.46,0.81,0.66,0.937,0.17,1.095,0.04,1.38,0.03,2.044,0],
 [-0.581,0,-0.319,0.02,-0.11,0.07,0.047,0.24,0.152,0.5,0.283,0.95,0.387,1.32,0.482,1.57,0.571,1.39,0.675,1.1,0.78,0.72,0.885,0.35,0.99,0.11,1.147,0.04,1.592,0],
 [-0.594,0,-0.353,0.02,-0.139,0.1,0.021,0.39,0.155,0.81,0.262,1.22,0.358,1.4,0.449,1.45,0.529,1.38,0.636,1.05,0.77,0.64,0.904,0.31,1.037,0.1,1.198,0.02,1.545,0],
 [-0.584,0,-0.404,0.01,-0.27,0.05,-0.157,0.18,-0.045,0.41,0.067,0.72,0.18,1.11,0.292,1.38,0.393,1.52,0.494,1.38,0.607,1.07,0.719,0.72,0.854,0.33,0.989,0.1,1.146,0.03,1.483,0]
];
const REGION_CF = [
 [-0.329,0,0.053,0.18,0.171,0.61,0.241,3.37,0.3,6.43,0.347,3.67,0.394,1.53,0.453,0.43,0.582,0.12,1.2,0],
 [-0.407,0,-0.014,0.27,0.186,0.8,0.271,3.57,0.329,4.73,0.4,2.68,0.486,0.89,0.664,0.27,1.557,0],
 [-0.534,0,-0.126,0.09,0.117,0.32,0.243,0.64,0.34,1.99,0.408,3.97,0.485,2.76,0.573,1.47,0.67,0.45,0.767,0.09,0.99,0.04,1.379,0],
 [-0.487,0,-0.266,0.03,-0.044,0.17,0.114,0.49,0.241,0.89,0.335,1.18,0.399,1.29,0.481,1.18,0.557,1.69,0.62,1.94,0.696,1.46,0.81,0.54,0.937,0.14,1.095,0.03,1.38,0.03,2.044,0],
 [-0.581,0,-0.319,0.03,-0.11,0.07,0.047,0.28,0.152,0.54,0.257,0.95,0.361,1.28,0.45,1.43,0.545,1.36,0.649,1.1,0.78,0.69,0.885,0.32,0.99,0.09,1.147,0.04,1.408,0.02,1.565,0],
 [-0.594,0,-0.353,0.02,-0.139,0.1,0.021,0.39,0.155,0.68,0.262,1.14,0.369,1.59,0.46,1.74,0.545,1.55,0.636,1.14,0.77,0.6,0.904,0.27,1.037,0.08,1.198,0.02,1.278,0],
 [-0.764,0,-0.539,0.01,-0.315,0.04,-0.18,0.12,-0.045,0.37,0.067,0.72,0.18,1.15,0.27,1.42,0.36,1.58,0.449,1.52,0.562,1.23,0.697,0.72,0.831,0.33,0.989,0.08,1.213,0.01,1.618,0]
];

const AGESEX_BOOTSTRAP = [
 [-0.369,0,-0.156,0.23,-0.067,0.39,0.004,0.39,0.025,1.03,0.039,15.2,0.057,30.0,0.071,18.5,0.085,3.94,0.101,0.39,0.124,0],
 [-0.667,0,-0.205,0.2,-0.044,0.3,0.036,0.6,0.068,9.1,0.096,18.35,0.124,9.1,0.149,1.1,0.177,0],
 [-0.621,0,-0.038,0.3,0.088,1.1,0.142,2.0,0.179,1.1,0.213,0],
 [-0.515,0,-0.18,0.29,0.026,0.43,0.129,1.21,0.17,4.43,0.216,6.43,0.258,5.14,0.294,3.0,0.335,0.71,0.387,0],
 [-0.519,0,-0.203,0.14,-0.013,0.29,0.032,0.48,0.082,0.24,0.177,0.4,0.215,3.14,0.247,6.0,0.285,4.57,0.335,2.19,0.386,1.0,0.462,0.17,0.557,0],
 [-0.77,0,-0.37,0.04,-0.22,0.23,-0.07,0.44,0.08,0.86,0.18,0.97,0.25,1.92,0.33,3.94,0.41,2.97,0.48,1.39,0.55,0.34,0.63,0],
 [-0.849,0,-0.626,0.01,-0.514,0.05,-0.403,0.12,-0.314,0.18,-0.225,0.44,-0.136,0.7,-0.047,1.01,0.042,1.23,0.127,1.27,0.22,1.1,0.305,0.96,0.376,1.23,0.477,1.62,0.532,1.4,0.599,0.79,0.666,0.27,0.755,0.05,0.933,0.01,1.033,0]
];
const AGESEX_NORMAL = [
 [-0.617,0,-0.333,0.06,-0.067,0.23,0.004,0.55,0.039,0.39,0.071,1.03,0.085,15.2,0.101,30.6,0.115,18.5,0.128,3.94,0.142,0],
 [-0.667,0,-0.205,0.25,-0.004,0.4,0.084,0.6,0.116,9.1,0.145,18.7,0.173,9.1,0.197,0],
 [-0.621,0,0.129,0.3,0.188,1.1,0.2,106.9,0.213,1.1,0.233,0],
 [-0.515,0,-0.077,0.43,0.103,0.86,0.18,0.71,0.232,1.93,0.268,2.64,0.289,1.57,0.304,13.0,0.314,26.7,0.325,13.0,0.34,0.86,0.356,0],
 [-0.329,0,-0.076,0.14,0.082,0.29,0.177,0.88,0.253,0.95,0.304,0.76,0.367,1.48,0.405,5.52,0.443,8.9,0.481,5.52,0.513,1.0,0.544,0],
 [-0.82,0,-0.37,0.02,-0.17,0.13,0.03,0.39,0.18,0.76,0.28,1.07,0.38,1.31,0.48,1.02,0.56,2.44,0.63,3.2,0.7,2.13,0.76,0.13,0.81,0],
 [-0.76,0,-0.514,0.02,-0.359,0.05,-0.225,0.14,-0.091,0.36,0.02,0.66,0.131,1.01,0.243,1.23,0.332,1.31,0.416,1.33,0.488,1.29,0.555,1.18,0.644,0.79,0.733,0.47,0.822,0.49,0.933,0.52,1.0,0.49,1.067,0.23,1.156,0.03,1.379,0.01,1.501,0]
];
const AGESEX_QF = [
 [-0.369,0,-0.067,0.13,0.021,0.23,0.066,2.32,0.083,8.77,0.098,15.2,0.113,8.77,0.131,4.26,0.163,2.32,0.199,1.03,0.252,0.39,0.376,0.23,0.567,0],
 [-0.667,0,-0.205,0.15,0.016,0.3,0.084,2.1,0.116,7.6,0.145,10.6,0.177,5.1,0.217,2.1,0.277,0.85,0.478,0.4,0.819,0],
 [-0.413,0,0.088,0.3,0.171,1.4,0.213,1.4,0.296,0.3,1.129,0],
 [-0.412,0,-0.026,0.29,0.129,0.57,0.196,3.0,0.242,5.29,0.284,4.43,0.335,2.29,0.412,0.86,0.541,0.43,0.851,0.29,1.649,0],
 [-0.519,0,-0.076,0.14,0.114,0.29,0.209,0.52,0.253,3.14,0.304,5.05,0.354,3.86,0.418,1.95,0.481,0.88,0.589,0.29,0.747,0.14,1.253,0.05,2.171,0],
 [-0.37,0,-0.17,0.13,0.03,0.44,0.18,0.76,0.31,0.97,0.38,2.44,0.43,3.57,0.51,2.44,0.61,0.86,0.73,0.18,1.03,0.04,2.03,0.02,3.01,0.04,3.53,0],
 [-0.849,0,-0.626,0.02,-0.403,0.05,-0.225,0.1,-0.091,0.27,0.02,0.53,0.131,0.92,0.243,1.25,0.345,1.39,0.443,1.29,0.51,1.2,0.566,1.31,0.615,1.41,0.666,1.23,0.733,0.79,0.822,0.36,0.933,0.1,1.067,0.03,1.501,0]
];
const AGESEX_CF = [
 [-0.369,0,-0.067,0.13,0.039,0.39,0.066,2.32,0.082,12.0,0.096,18.6,0.11,12.0,0.128,4.26,0.154,2.0,0.19,0.71,0.261,0],
 [-0.526,0,-0.124,0.2,0.036,0.4,0.096,3.1,0.137,12.1,0.177,5.1,0.229,1.6,0.317,0],
 [-0.413,0,0.088,0.3,0.171,1.4,0.204,1.7,0.254,0.6,0.671,0],
 [-0.412,0,-0.026,0.29,0.139,0.71,0.196,3.71,0.237,5.64,0.273,4.43,0.325,2.64,0.397,0.86,0.515,0.29,0.696,0],
 [-0.392,0,-0.076,0.12,0.114,0.29,0.215,0.76,0.253,3.14,0.291,4.45,0.354,3.38,0.418,1.71,0.494,0.76,0.608,0.24,0.937,0.1,1.949,0],
 [-0.37,0,-0.17,0.11,0.03,0.34,0.18,0.65,0.31,0.92,0.38,2.34,0.45,3.49,0.53,2.34,0.63,0.86,0.78,0.15,1.13,0.02,2.78,0],
 [-0.76,0,-0.514,0.02,-0.359,0.05,-0.225,0.14,-0.091,0.33,0.02,0.6,0.131,0.97,0.243,1.25,0.365,1.37,0.465,1.29,0.521,1.23,0.577,1.29,0.621,1.36,0.677,1.14,0.755,0.66,0.844,0.27,0.978,0.07,1.156,0.02,1.379,0]
];

// ---------------- assembled lookup tables (built from the arrays above) ----------------
const CURVES = [
  [AGE_BOOTSTRAP, AGE_NORMAL, AGE_QF, AGE_CF],
  [SEX_BOOTSTRAP, SEX_NORMAL, SEX_QF, SEX_CF],
  [BMI_BOOTSTRAP, BMI_NORMAL, BMI_QF, BMI_CF],
  [SMOKER_BOOTSTRAP, SMOKER_NORMAL, SMOKER_QF, SMOKER_CF],
  [REGION_BOOTSTRAP, REGION_NORMAL, REGION_QF, REGION_CF],
  [AGESEX_BOOTSTRAP, AGESEX_NORMAL, AGESEX_QF, AGESEX_CF]
];
const XLIMS = [AGE_XLIM, SEX_XLIM, BMI_XLIM, SMOKER_XLIM, REGION_XLIM, AGESEX_XLIM];
const YMAXS = [AGE_YMAX, SEX_YMAX, BMI_YMAX, SMOKER_YMAX, REGION_YMAX, AGESEX_YMAX];

// ---------------- styles ----------------
const COLORS = ["#1f77b4", "#d62728", "#2ca02c", "#ff7f0e"];
const FONT = '"Liberation Sans", Arial, Helvetica, sans-serif';

function toPoints(flat) {
  const pts = [];
  for (let i = 0; i < flat.length; i += 2) pts.push({x: flat[i], y: flat[i + 1]});
  return pts;
}
function fmtTicks(vals) {
  const dec = vals.some(v => !Number.isInteger(v)) ? 1 : 0;
  return vals.map(v => v.toFixed(dec).replace('-', '\u2212'));
}
function plotBox(r, c) {
  const L = Math.round(c === 0 ? 76 : 27.4 + 429.6 * c);
  const R = Math.round(423 + 429.4 * c);
  const T = r === 0 ? 40 : (r === 5 ? 2229 : 444 * r + 8);
  const B = r === 5 ? 2605 : 444 * r + 433;
  return {L, R, T, B};
}

function strokeLine(ctx, x1, y1, x2, y2) {
  ctx.beginPath(); ctx.moveTo(x1, y1); ctx.lineTo(x2, y2); ctx.stroke();
}

const decorPlugin = {
  id: 'decor',
  beforeDatasetsDraw(chart) {
    const {ctx, chartArea: a, scales: {x, y}} = chart;
    ctx.save();
    // dotted reference: uniform density and CI midpoint
    ctx.strokeStyle = '#c4c4c4'; ctx.lineWidth = 1.8; ctx.setLineDash([2, 4]);
    const py = y.getPixelForValue(UNIFORM_DENSITY);
    if (py > a.top && py < a.bottom) strokeLine(ctx, a.left, py, a.right, py);
    const pm = x.getPixelForValue(CI_MID);
    strokeLine(ctx, pm, a.top, pm, a.bottom);
    // dashed CI bounds
    ctx.strokeStyle = '#7a7a7a'; ctx.lineWidth = 2; ctx.setLineDash([7, 4.5]);
    CI_BOUNDS.forEach(v => { const p = x.getPixelForValue(v); strokeLine(ctx, p, a.top, p, a.bottom); });
    ctx.restore();
  },
  afterDraw(chart) {
    const {ctx, chartArea: a, scales: {x, y}} = chart;
    const {row, col} = chart.options.plugins.decor;
    ctx.save();
    ctx.setLineDash([]);
    ctx.strokeStyle = '#000'; ctx.fillStyle = '#000';
    ctx.lineWidth = 2.2; ctx.lineCap = 'square'; ctx.lineJoin = 'miter';
    ctx.beginPath(); ctx.moveTo(a.left, a.top); ctx.lineTo(a.left, a.bottom); ctx.lineTo(a.right, a.bottom); ctx.stroke();
    ctx.lineCap = 'butt'; ctx.lineWidth = 2;
    if (col === 0) {
      const labs = fmtTicks(Y_TICKS[row]);
      ctx.font = '19px ' + FONT; ctx.textAlign = 'center'; ctx.textBaseline = 'middle';
      Y_TICKS[row].forEach((v, i) => {
        const p = y.getPixelForValue(v);
        strokeLine(ctx, a.left - 9, p, a.left, p);
        ctx.save(); ctx.translate(a.left - 21, p); ctx.rotate(-Math.PI / 2); ctx.fillText(labs[i], 0, 0); ctx.restore();
      });
      const cy = (a.top + a.bottom) / 2;
      ctx.font = '20px ' + FONT;
      ctx.save(); ctx.translate(a.left - 57, cy); ctx.rotate(-Math.PI / 2); ctx.fillText(TERMS[row], 0, 0); ctx.restore();
      ctx.save(); ctx.translate(a.left - 45, cy); ctx.rotate(-Math.PI / 2); ctx.fillText(Y_TITLE, 0, 0); ctx.restore();
    }
    if (row === 5) {
      const labs = fmtTicks(X_TICKS[col]);
      ctx.font = '19px ' + FONT; ctx.textAlign = 'center'; ctx.textBaseline = 'alphabetic';
      X_TICKS[col].forEach((v, i) => {
        const p = x.getPixelForValue(v);
        strokeLine(ctx, p, a.bottom, p, a.bottom + 9);
        ctx.fillText(labs[i], p, a.bottom + 28);
      });
      ctx.font = '20px ' + FONT;
      ctx.fillText(X_TITLE, (a.left + a.right) / 2, a.bottom + 52);
    }
    if (row === 0) {
      ctx.font = '24.5px ' + FONT; ctx.textAlign = 'center'; ctx.textBaseline = 'alphabetic';
      ctx.fillText(N_LABELS[col], (a.left + a.right) / 2, a.top - 12);
    }
    ctx.restore();
  }
};

const page = document.getElementById('page');
const PAD = {left: 80, top: 45, right: 20, bottom: 65};

for (let r = 0; r < 6; r++) {
  for (let c = 0; c < 7; c++) {
    const b = plotBox(r, c);
    const cv = document.createElement('canvas');
    const w = b.R - b.L + PAD.left + PAD.right;
    const h = b.B - b.T + PAD.top + PAD.bottom;
    cv.width = w; cv.height = h;
    cv.style.left = (b.L - PAD.left) + 'px';
    cv.style.top = (b.T - PAD.top) + 'px';
    cv.style.width = w + 'px'; cv.style.height = h + 'px';
    page.appendChild(cv);
    const ymax = YMAXS[r][c];
    new Chart(cv, {
      type: 'line',
      data: {
        datasets: METHODS.map((m, k) => ({
          label: m,
          data: toPoints(CURVES[r][k][c]),
          borderColor: COLORS[k],
          backgroundColor: COLORS[k],
          borderWidth: 3.8,
          pointRadius: 0,
          fill: false,
          cubicInterpolationMode: 'monotone',
          borderCapStyle: 'round',
          borderJoinStyle: 'round',
          order: 3 - k
        }))
      },
      options: {
        responsive: false,
        animation: false,
        events: [],
        layout: {padding: PAD},
        scales: {
          x: {type: 'linear', display: false, min: XLIMS[r][c][0], max: XLIMS[r][c][1]},
          y: {type: 'linear', display: false, min: -ymax / 26, max: ymax}
        },
        plugins: {
          legend: {display: false},
          tooltip: {enabled: false},
          decor: {row: r, col: c}
        }
      },
      plugins: [decorPlugin]
    });
  }
}

// ---------------- legend (HTML text) ----------------
(function () {
  const t = document.createElement('div');
  t.className = 'lg'; t.textContent = 'CI method';
  t.style.left = '3160px'; t.style.top = '1273px'; t.style.fontSize = '18px';
  page.appendChild(t);
  const ys = [1310, 1331, 1352, 1373];
  METHODS.forEach((m, k) => {
    const ln = document.createElement('div');
    ln.className = 'lgline'; ln.style.background = COLORS[k];
    ln.style.left = '3145px'; ln.style.top = (ys[k] - 1.75) + 'px';
    page.appendChild(ln);
    const tx = document.createElement('div');
    tx.className = 'lg'; tx.textContent = m;
    tx.style.left = '3194px'; tx.style.top = (ys[k] - 8.3) + 'px'; tx.style.fontSize = '17.5px';
    page.appendChild(tx);
  });
})();
</script>
</body>
</html>
